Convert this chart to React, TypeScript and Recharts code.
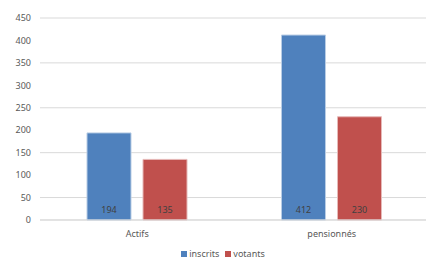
import { BarChart, Bar, XAxis, YAxis, CartesianGrid, Legend, LabelList } from 'recharts';

const categories = ['Actifs', 'pensionnés'];
const inscrits = [194, 412];
const votants = [135, 230];
const yTicks = [0, 50, 100, 150, 200, 250, 300, 350, 400, 450];

const chartData = categories.map((name, i) => ({ name, inscrits: inscrits[i], votants: votants[i] }));

const font = "'Noto Sans', sans-serif";

function LegendContent(props: any) {
  const items = props.payload || [];
  return (
    <div style={{ display: 'flex', justifyContent: 'center', fontFamily: font, fontSize: 9, lineHeight: '11px', color: '#595959' }}>
      {items.map((it: any) => (
        <span key={it.value} style={{ display: 'flex', alignItems: 'center', marginRight: 6 }}>
          <span style={{ width: 6, height: 6, background: it.color, marginRight: 2, display: 'inline-block' }} />
          {it.value}
        </span>
      ))}
    </div>
  );
}

function App() {
  return (
    <div style={{ position: 'absolute', left: 0, top: 0 }}>
      <BarChart
        width={429}
        height={261}
        data={chartData}
        margin={{ top: 18, right: 0, left: 0, bottom: 0 }}
        barCategoryGap="24%"
        barGap={12}
      >
        <CartesianGrid vertical={false} stroke="#d9d9d9" />
        <XAxis
          dataKey="name"
          height={22}
          tickLine={false}
          axisLine={{ stroke: '#d9d9d9' }}
          tick={{ fontSize: 9, fill: '#595959', fontFamily: font }}
          tickMargin={5}
        />
        <YAxis
          width={40}
          domain={[0, 450]}
          ticks={yTicks}
          axisLine={false}
          tickLine={false}
          tickSize={0}
          tickMargin={9}
          tick={{ fontSize: 9, fill: '#595959', fontFamily: font }}
        />
        <Legend
          verticalAlign="bottom"
          height={19}
          content={LegendContent}
          wrapperStyle={{ left: 0, width: 452, bottom: -6 }}
        />
        <Bar dataKey="inscrits" fill="#4F81BD" stroke="#b9cde5" strokeWidth={1} barSize={44} isAnimationActive={false}>
          <LabelList dataKey="inscrits" position="insideBottom" offset={7} style={{ fontSize: 9, fill: '#404040', fontFamily: font }} />
        </Bar>
        <Bar dataKey="votants" fill="#C0504D" stroke="#e6b9b8" strokeWidth={1} barSize={44} isAnimationActive={false}>
          <LabelList dataKey="votants" position="insideBottom" offset={7} style={{ fontSize: 9, fill: '#404040', fontFamily: font }} />
        </Bar>
      </BarChart>
    </div>
  );
}

export default App;
